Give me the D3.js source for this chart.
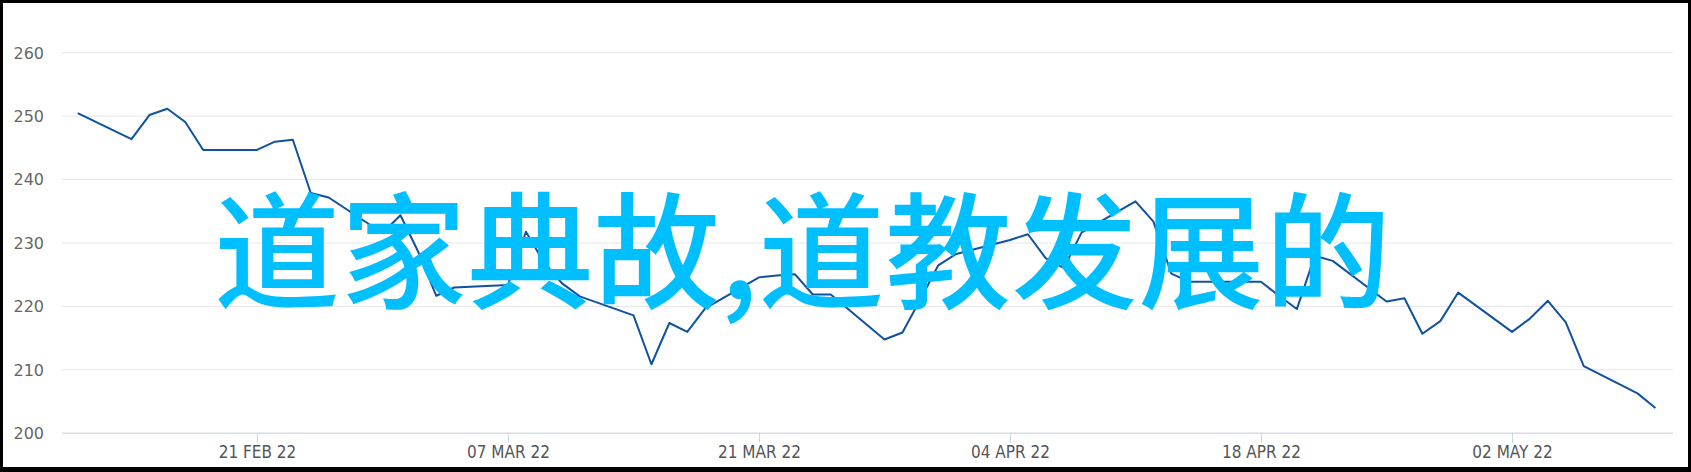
<!DOCTYPE html>
<html>
<head>
<meta charset="utf-8">
<script src="https://cdn.jsdelivr.net/npm/d3@7"></script>
<style>
  html, body { margin: 0; padding: 0; background: #fff; }
  svg { display: block; }
</style>
</head>
<body>
<svg id="chart" width="1691" height="472"></svg>
<script>
// ---- data ----
const dates = [
  "2022-02-11","2022-02-14","2022-02-15","2022-02-16","2022-02-17","2022-02-18",
  "2022-02-21","2022-02-22","2022-02-23","2022-02-24","2022-02-25",
  "2022-02-28","2022-03-01","2022-03-02","2022-03-03","2022-03-04",
  "2022-03-07","2022-03-08","2022-03-09","2022-03-10","2022-03-11",
  "2022-03-14","2022-03-15","2022-03-16","2022-03-17","2022-03-18",
  "2022-03-21","2022-03-22","2022-03-23","2022-03-24","2022-03-25",
  "2022-03-28","2022-03-29","2022-03-30","2022-03-31","2022-04-01",
  "2022-04-04","2022-04-05","2022-04-06","2022-04-07","2022-04-08",
  "2022-04-11","2022-04-12","2022-04-13","2022-04-14","2022-04-15",
  "2022-04-18","2022-04-19","2022-04-20","2022-04-21","2022-04-22",
  "2022-04-25","2022-04-26","2022-04-27","2022-04-28","2022-04-29",
  "2022-05-02","2022-05-03","2022-05-04","2022-05-05","2022-05-06",
  "2022-05-09","2022-05-10"
];
const values = [
  250.4,246.3,250.1,251.1,249.0,244.6,
  244.6,245.9,246.2,237.8,237.1,
  231.5,234.3,228.5,221.6,222.9,
  223.3,231.7,226.9,223.6,221.5,
  218.5,210.8,217.3,215.9,219.6,
  224.5,224.8,225.0,221.8,221.8,
  214.7,215.8,221.0,226.4,228.2,
  230.4,231.3,227.5,226.0,231.6,
  236.5,233.3,225.1,223.8,223.8,
  223.8,221.6,219.5,227.9,227.1,
  220.7,221.2,215.6,217.6,222.1,
  215.9,218.0,220.8,217.4,210.5,
  206.2,203.9
];
const xTickDates = ["2022-02-21","2022-03-07","2022-03-21","2022-04-04","2022-04-18","2022-05-02"];
const yTicks = [200,210,220,230,240,250,260];
const xDomain = ["2022-02-10T03:00:00Z","2022-05-10T23:30:00Z"];
const yDomain = [200,260];
const overlayText = "道家典故,道教发展的";

// ---- layout ----
const W = 1691, H = 472;
const plot = { left: 62, right: 1673, top: 52.3, bottom: 432.7 };

const svg = d3.select("#chart");

// frame
svg.append("rect").attr("x",0).attr("y",0).attr("width",W).attr("height",H).attr("fill","#000");
svg.append("rect").attr("x",3).attr("y",3).attr("width",1685).attr("height",464).attr("fill","#fff");

const parse = d3.utcParse("%Y-%m-%d");
const data = dates.map((d,i) => ({ date: parse(d), value: values[i] }));

const x = d3.scaleUtc()
  .domain(xDomain.map(s => new Date(s)))
  .range([plot.left, plot.right]);
const y = d3.scaleLinear()
  .domain(yDomain)
  .range([plot.bottom, plot.top]);

// gridlines + y labels
const yAxis = d3.axisLeft(y)
  .tickValues(yTicks)
  .tickSize(-(plot.right - plot.left))
  .tickPadding(18)
  .tickFormat(d3.format("d"));
const gy = svg.append("g")
  .attr("transform", `translate(${plot.left},0)`)
  .call(yAxis);
gy.select(".domain").remove();
gy.selectAll(".tick line").attr("stroke","#e6e6e6").attr("stroke-width",1);
gy.selectAll(".tick text")
  .attr("fill","#666666")
  .attr("font-family","'DejaVu Sans', sans-serif")
  .attr("font-size","16px")
  .attr("dy","0.36em");

// x axis
const fmt = d3.utcFormat("%d %b %y");
const xAxis = d3.axisBottom(x)
  .tickValues(xTickDates.map(parse))
  .tickSize(10)
  .tickPadding(3)
  .tickFormat(d => fmt(d).toUpperCase());
const gx = svg.append("g")
  .attr("transform", `translate(0,${plot.bottom})`)
  .call(xAxis);
gx.select(".domain")
  .attr("stroke","#ccd6eb")
  .attr("d", `M${plot.left},0.5H${plot.right}`);
gx.selectAll(".tick line").attr("stroke","#ccd6eb");
gx.selectAll(".tick text")
  .attr("fill","#555555")
  .attr("font-family","'DejaVu Sans Condensed', 'DejaVu Sans', sans-serif")
  .attr("font-stretch","condensed")
  .attr("font-size","17px");

// line
const line = d3.line()
  .x(d => x(d.date))
  .y(d => y(d.value));
svg.append("path")
  .datum(data)
  .attr("fill","none")
  .attr("stroke","#0f52a0")
  .attr("stroke-width",2)
  .attr("stroke-linejoin","round")
  .attr("d", line);

// overlay text
svg.append("text")
  .attr("x", 214)
  .attr("y", 299)
  .attr("font-family","'Noto Sans CJK SC', sans-serif")
  .attr("font-size","126px")
  .attr("font-weight","500")
  .attr("letter-spacing","0.6px")
  .attr("fill","#00bfff")
  .text(overlayText);
</script>
</body>
</html>
